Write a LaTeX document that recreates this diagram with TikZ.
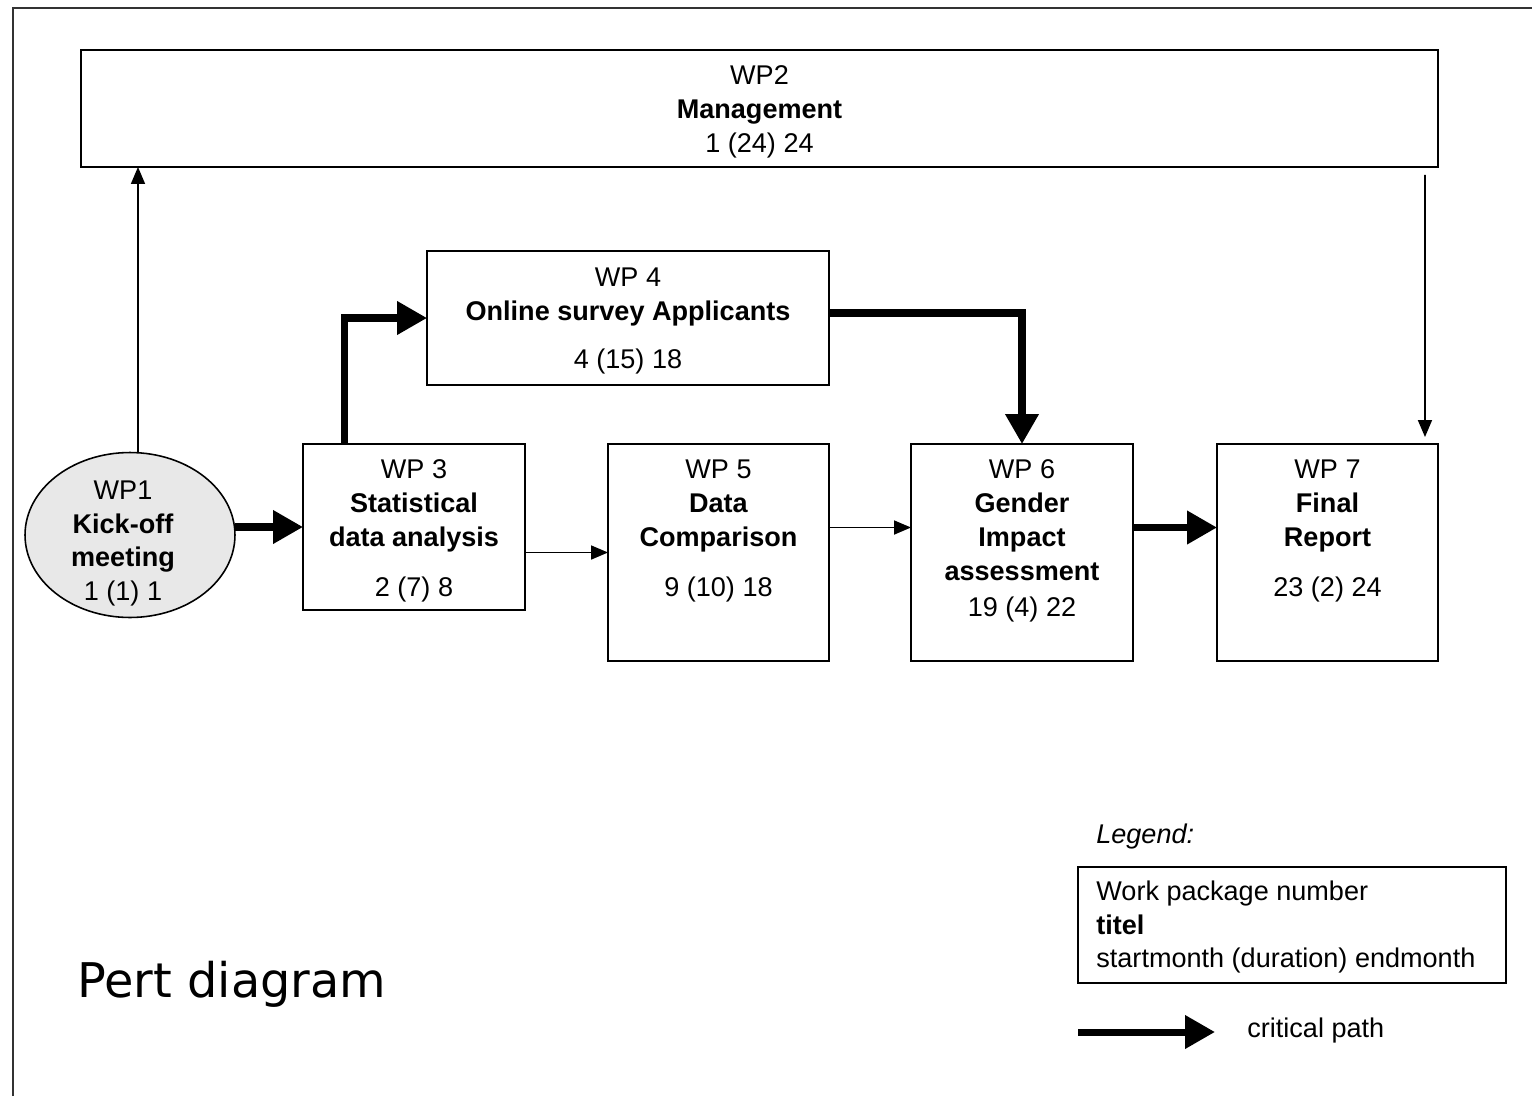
\documentclass[tikz,border=0pt]{standalone}
\usepackage{fontspec}
\setmainfont{Liberation Sans}
\newfontfamily\pertfont{DejaVu Sans}
\usetikzlibrary{shapes.geometric,positioning,arrows.meta}

\begin{document}
\begin{tikzpicture}[x=0.02cm, y=-0.02cm,
		wp/.style={draw, line width=0.9pt, inner sep=0pt, outer sep=0pt},
		wptext/.style={align=center, inner sep=0pt, font=\fontsize{15.4}{19.3}\selectfont},
		thinarrow/.style={line width=1pt, -{Triangle[length=0.34cm, width=0.28cm]}},
		critarrow/.style={line width=4pt, -{Triangle[length=0.6cm, width=0.64cm]}}]
		\useasboundingbox (0,0) rectangle (1532,1096);
		\draw[line width=1pt, black!80] (13,1096) -- (13,8) -- (1532,8);
		
		% les boites (coordonnees en pixels)
		\node[wp, minimum width=27.14cm, minimum height=2.34cm] (wp2) at (759.5,108.5) {};
		\node[wp, minimum width=8.04cm, minimum height=2.68cm] (wp4) at (628,318) {};
		\node[wp, ellipse, fill=gray!18, minimum width=4.2cm, minimum height=3.3cm] (wp1) at (130,535) {};
		\node[wp, minimum width=4.44cm, minimum height=3.32cm] (wp3) at (414,527) {};
		\node[wp, minimum width=4.42cm, minimum height=4.34cm] (wp5) at (718.5,552.5) {};
		\node[wp, minimum width=4.44cm, minimum height=4.34cm] (wp6) at (1022,552.5) {};
		\node[wp, minimum width=4.42cm, minimum height=4.34cm] (wp7) at (1327.5,552.5) {};
		
		\node[wptext, below=0.31cm of wp2.north] (t2) {WP2\\\textbf{Management}\\1 (24) 24};
		\node[wptext, below=0.33cm of wp4.north] (t4) {WP 4\\\textbf{Online survey Applicants}\\[0.28cm]4 (15) 18};
		\node[wptext, xshift=-0.14cm, yshift=-0.17cm] (t1) at (wp1) {WP1\\\textbf{Kick-off}\\\textbf{meeting}\\1 (1) 1};
		\node[wptext, below=0.31cm of wp3.north] (t3) {WP 3\\\textbf{Statistical}\\\textbf{data analysis}\\[0.32cm]2 (7) 8};
		\node[wptext, below=0.31cm of wp5.north] (t5) {WP 5\\\textbf{Data}\\\textbf{Comparison}\\[0.32cm]9 (10) 18};
		\node[wptext, below=0.31cm of wp6.north] (t6) {WP 6\\\textbf{Gender}\\\textbf{Impact}\\\textbf{assessment}\\[0.04cm]19 (4) 22};
		\node[wptext, below=0.31cm of wp7.north] (t7) {WP 7\\\textbf{Final}\\\textbf{Report}\\[0.32cm]23 (2) 24};
		
		% liens
		\draw[thinarrow] ([xshift=0.16cm]wp1.north) -- ([xshift=0.16cm]wp1.north |- wp2.south);
		\draw[critarrow] (wp3.west -| wp1.east) -- (wp3.west);
		\draw[critarrow] ([xshift=-1.4cm]wp3.north) |- (wp4.west);
		\draw[critarrow] ([yshift=0.1cm]wp4.east) -| (wp6.north);
		\draw[thinarrow] (wp5.west -| wp3.east) -- (wp5.west);
		\draw[thinarrow] ([yshift=0.5cm]wp5.east) -- ([yshift=0.5cm]wp6.west);
		\draw[critarrow] ([yshift=0.5cm]wp6.east) -- ([yshift=0.5cm]wp7.west);
		\draw[thinarrow, shorten <=0.16cm, shorten >=0.14cm] ([xshift=-0.26cm]wp2.south east) -- ([xshift=-0.26cm]wp7.north east);
		
		% legende
		\node[anchor=west, inner sep=0pt, font=\fontsize{15.4}{19.3}\selectfont\itshape] (leg) at (1096,836) {Legend:};
		\node[wp, minimum width=8.56cm, minimum height=2.32cm] (legbox) at (1292,925) {};
		\node[wptext, align=left, anchor=west, right=0.36cm of legbox.west, yshift=-0.04cm] (legtext) {Work package number\\\textbf{titel}\\startmonth (duration) endmonth};
		\coordinate (critstart) at (1078,1032);
		\node[anchor=west, inner sep=0pt, font=\fontsize{15.4}{19.3}\selectfont] (crit) at (1247,1030) {critical path};
		\draw[critarrow] (critstart) -- (critstart -| 1215,0);
		
		\node[anchor=base west, inner sep=0pt, font=\pertfont\fontsize{27.2}{32}\selectfont] (title) at (77,997) {Pert diagram};
	\end{tikzpicture}
\end{document}
